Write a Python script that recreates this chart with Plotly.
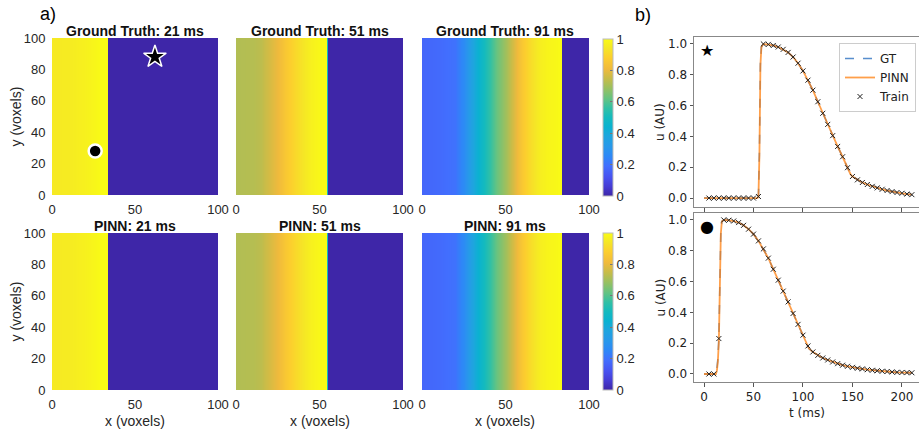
import plotly.graph_objects as go

W, H = 919, 431

# ---------------- data: spatial profiles (uniform along y) ----------------
x_21 = [0, 10, 20, 25, 30, 33, 34, 100]
gt_21 = [0.95, 0.955, 0.97, 0.985, 1.0, 1.0, 0.0, 0.0]
pinn_21 = [0.95, 0.955, 0.97, 0.985, 1.0, 1.0, 0.0, 0.0]

x_51 = [0, 10, 15, 20, 25, 30, 35, 40, 45, 50, 54, 55, 100]
gt_51 = [0.72, 0.725, 0.735, 0.77, 0.81, 0.86, 0.90, 0.94, 0.97, 0.99, 1.0, 0.0, 0.0]
pinn_51 = [0.72, 0.725, 0.735, 0.77, 0.81, 0.86, 0.90, 0.94, 0.97, 0.99, 1.0, 0.0, 0.0]

x_91 = [0, 10, 20, 25, 30, 35, 40, 45, 50, 55, 60, 65, 70, 75, 80, 83, 84, 100]
gt_91 = [0.17, 0.18, 0.20, 0.27, 0.37, 0.46, 0.55, 0.63, 0.70, 0.78, 0.86, 0.92, 0.96, 0.98, 0.99, 1.0, 0.0, 0.0]
pinn_91 = [0.17, 0.18, 0.20, 0.27, 0.37, 0.46, 0.55, 0.63, 0.70, 0.78, 0.86, 0.92, 0.96, 0.98, 0.99, 1.0, 0.0, 0.0]

y_vox = [0, 100]
panel_titles_gt = ["Ground Truth: 21 ms", "Ground Truth: 51 ms", "Ground Truth: 91 ms"]
panel_titles_pinn = ["PINN: 21 ms", "PINN: 51 ms", "PINN: 91 ms"]

probe_star = (62, 88)
probe_circle = (26, 28)

# ---------------- data: time courses ----------------
t_train = [5, 10, 15, 20, 25, 30, 35, 40, 45, 50, 55, 60, 65, 70, 75, 80, 85, 90, 95, 100,
           105, 110, 115, 120, 125, 130, 135, 140, 145, 150, 155, 160, 165, 170, 175, 180,
           185, 190, 195, 200, 205, 210]
star_train = [0, 0, 0, 0, 0, 0, 0, 0, 0, 0, 0.01, 1.0, 0.997, 0.99, 0.98, 0.965, 0.945, 0.915,
              0.875, 0.825, 0.765, 0.70, 0.625, 0.55, 0.478, 0.405, 0.335, 0.268, 0.197, 0.14,
              0.118, 0.101, 0.088, 0.076, 0.066, 0.057, 0.049, 0.042, 0.036, 0.031, 0.026, 0.022]
circ_train = [0, 0, 0.23, 1.0, 0.998, 0.993, 0.983, 0.965, 0.94, 0.908, 0.864, 0.812, 0.752,
              0.68, 0.609, 0.538, 0.468, 0.393, 0.322, 0.252, 0.182, 0.143, 0.121, 0.104, 0.091,
              0.078, 0.067, 0.057, 0.05, 0.043, 0.037, 0.033, 0.028, 0.024, 0.021, 0.018, 0.016,
              0.013, 0.011, 0.01, 0.009, 0.008]

star_t = [0, 50, 54, 55, 56, 57, 58, 60, 65, 70, 75, 80, 85, 90, 95, 100, 105, 110, 115, 120,
          125, 130, 135, 140, 145, 148, 150, 155, 160, 165, 170, 175, 180, 185, 190, 195, 200, 205, 210]
star_gt = [0, 0, 0, 0.01, 0.3, 0.88, 0.98, 1.0, 0.997, 0.99, 0.98, 0.965, 0.945, 0.915, 0.875,
           0.825, 0.765, 0.70, 0.625, 0.55, 0.478, 0.405, 0.335, 0.268, 0.197, 0.155, 0.14, 0.118,
           0.101, 0.088, 0.076, 0.066, 0.057, 0.049, 0.042, 0.036, 0.031, 0.026, 0.022]
star_pinn = [0, 0, 0, 0.01, 0.28, 0.86, 0.98, 1.0, 0.997, 0.99, 0.98, 0.965, 0.945, 0.915, 0.875,
             0.825, 0.765, 0.70, 0.625, 0.55, 0.478, 0.405, 0.335, 0.268, 0.197, 0.155, 0.14, 0.118,
             0.101, 0.088, 0.076, 0.066, 0.057, 0.049, 0.042, 0.036, 0.031, 0.026, 0.022]

circ_t = [0, 12, 13, 14, 15, 16, 17, 18, 20, 25, 30, 35, 40, 45, 50, 55, 60, 65, 70, 75, 80, 85,
          90, 95, 100, 106, 110, 115, 120, 125, 130, 135, 140, 145, 150, 155, 160, 165, 170, 175,
          180, 185, 190, 195, 200, 205, 210]
circ_gt = [0, 0, 0.03, 0.1, 0.23, 0.6, 0.92, 0.99, 1.0, 0.998, 0.993, 0.983, 0.965, 0.94, 0.908,
           0.864, 0.812, 0.752, 0.68, 0.609, 0.538, 0.468, 0.393, 0.322, 0.252, 0.165, 0.143,
           0.121, 0.104, 0.091, 0.078, 0.067, 0.057, 0.05, 0.043, 0.037, 0.033, 0.028, 0.024,
           0.021, 0.018, 0.016, 0.013, 0.011, 0.01, 0.009, 0.008]
circ_pinn = [0, 0, 0.02, 0.08, 0.21, 0.58, 0.91, 0.99, 1.0, 0.998, 0.993, 0.983, 0.965, 0.94, 0.908,
             0.864, 0.812, 0.752, 0.68, 0.609, 0.538, 0.468, 0.393, 0.322, 0.252, 0.165, 0.143,
             0.121, 0.104, 0.091, 0.078, 0.067, 0.057, 0.05, 0.043, 0.037, 0.033, 0.028, 0.024,
             0.021, 0.018, 0.016, 0.013, 0.011, 0.01, 0.009, 0.008]

cbar_ticks = [0, 0.2, 0.4, 0.6, 0.8, 1.0]
cbar_text = ["0", "0.2", "0.4", "0.6", "0.8", "1"]

# ---------------- styling ----------------
parula = [
    [0.00, "rgb(62,38,168)"],
    [0.06, "rgb(70,60,212)"],
    [0.12, "rgb(72,82,240)"],
    [0.19, "rgb(66,110,254)"],
    [0.25, "rgb(46,135,247)"],
    [0.31, "rgb(40,151,235)"],
    [0.38, "rgb(30,165,222)"],
    [0.44, "rgb(10,178,208)"],
    [0.50, "rgb(20,186,190)"],
    [0.56, "rgb(50,192,164)"],
    [0.62, "rgb(100,195,130)"],
    [0.69, "rgb(155,192,95)"],
    [0.75, "rgb(200,188,72)"],
    [0.81, "rgb(240,186,60)"],
    [0.88, "rgb(252,206,46)"],
    [0.94, "rgb(245,230,38)"],
    [1.00, "rgb(249,251,21)"],
]

MFONT = "Liberation Sans, Arial, sans-serif"
PFONT = "DejaVu Sans, sans-serif"

def px_x(p):
    return p / W

def px_y(p):
    return 1 - p / H

cols = [(52, 218), (236, 403), (422, 589)]
rows = [(38, 195), (233, 390)]
title_y = [31, 225.5]

fig = go.Figure()
layout = dict(width=W, height=H, margin=dict(l=0, r=0, t=0, b=0, autoexpand=False),
              paper_bgcolor="white", plot_bgcolor="white", showlegend=True)
annotations = []

profiles = [[(x_21, gt_21), (x_51, gt_51), (x_91, gt_91)],
            [(x_21, pinn_21), (x_51, pinn_51), (x_91, pinn_91)]]
titles = [panel_titles_gt, panel_titles_pinn]

idx = 0
for r, (ry0, ry1) in enumerate(rows):
    for c, (cx0, cx1) in enumerate(cols):
        idx += 1
        xs, zs = profiles[r][c]
        ax = "" if idx == 1 else str(idx)
        fig.add_trace(go.Heatmap(
            x=xs, y=y_vox, z=[zs for _ in y_vox], zsmooth="best",
            coloraxis="coloraxis" if r == 0 else "coloraxis2",
            xaxis="x" + ax, yaxis="y" + ax, showscale=False, hoverinfo="skip"))
        layout["xaxis" + ax] = dict(
            domain=[px_x(cx0), px_x(cx1)], range=[0, 100], anchor="y" + ax,
            tickvals=[0, 50, 100], ticks="outside", ticklen=2, tickcolor="rgba(0,0,0,0)",
            showgrid=False, zeroline=False, showline=False, automargin=False,
            tickfont=dict(family=MFONT, size=13, color="#262626"))
        layout["yaxis" + ax] = dict(
            domain=[px_y(ry1), px_y(ry0)], range=[0, 100], anchor="x" + ax,
            tickvals=[0, 20, 40, 60, 80, 100], ticks="outside", ticklen=3,
            tickcolor="rgba(0,0,0,0)", showticklabels=(c == 0),
            showgrid=False, zeroline=False, showline=False, automargin=False,
            tickfont=dict(family=MFONT, size=13, color="#262626"))
        annotations.append(dict(
            text="<b>" + titles[r][c] + "</b>", x=px_x((cx0 + cx1) / 2), y=px_y(title_y[r]),
            xref="paper", yref="paper", xanchor="center", yanchor="middle", showarrow=False,
            borderpad=0, font=dict(family=MFONT, size=14, color="#111")))
        if r == 1:
            annotations.append(dict(
                text="x (voxels)", x=px_x((cx0 + cx1) / 2), y=px_y(421), xref="paper", yref="paper",
                xanchor="center", yanchor="middle", showarrow=False, borderpad=0,
                font=dict(family=MFONT, size=14, color="#262626")))
    annotations.append(dict(
        text="y (voxels)", x=px_x(15), y=px_y((ry0 + ry1) / 2), xref="paper", yref="paper",
        xanchor="center", yanchor="middle", textangle=-90, showarrow=False,
        font=dict(family=MFONT, size=14, color="#262626")))

# probe markers on first ground-truth panel
fig.add_trace(go.Scatter(x=[probe_star[0]], y=[probe_star[1]], mode="markers", xaxis="x", yaxis="y",
                         marker=dict(symbol="star", size=17, color="black",
                                     line=dict(color="white", width=1.5)),
                         showlegend=False, hoverinfo="skip"))
fig.add_trace(go.Scatter(x=[probe_circle[0]], y=[probe_circle[1]], mode="markers", xaxis="x", yaxis="y",
                         marker=dict(symbol="circle", size=13, color="black",
                                     line=dict(color="white", width=2.5)),
                         showlegend=False, hoverinfo="skip"))

cb_common = dict(thickness=10, thicknessmode="pixels", lenmode="pixels", len=157,
                 x=px_x(603), xanchor="left", xpad=0, ypad=0, yanchor="top",
                 tickvals=cbar_ticks, ticktext=cbar_text, ticks="inside", ticklen=3,
                 tickcolor="#777", outlinewidth=1, outlinecolor="#bbb",
                 tickfont=dict(family=MFONT, size=13, color="#262626"))
layout["coloraxis"] = dict(colorscale=parula, cmin=0, cmax=1,
                           colorbar=dict(y=px_y(39), **cb_common))
layout["coloraxis2"] = dict(colorscale=parula, cmin=0, cmax=1,
                            colorbar=dict(y=px_y(233), **cb_common))

# ---------------- right-hand time-course panels ----------------
gt_color = "rgba(70,130,200,0.9)"
pinn_color = "rgba(255,127,14,0.75)"
right_rows = [(37, 207, [-0.058, 1.045], star_t, star_gt, star_pinn, star_train, "★"),
              (213, 382, [-0.052, 1.045], circ_t, circ_gt, circ_pinn, circ_train, "●")]
for k, (y0, y1, yr, tt, gt, pn, tr, sym) in enumerate(right_rows):
    ax = str(7 + k)
    first = (k == 0)
    fig.add_trace(go.Scatter(x=tt, y=gt, mode="lines", name="GT", legendgroup="GT",
                             showlegend=first, xaxis="x" + ax, yaxis="y" + ax,
                             line=dict(color=gt_color, width=1.5, dash="dash")))
    fig.add_trace(go.Scatter(x=tt, y=pn, mode="lines", name="PINN", legendgroup="PINN",
                             showlegend=first, xaxis="x" + ax, yaxis="y" + ax,
                             line=dict(color=pinn_color, width=1.8)))
    fig.add_trace(go.Scatter(x=t_train, y=tr, mode="markers", name="Train", legendgroup="Train",
                             showlegend=first, xaxis="x" + ax, yaxis="y" + ax,
                             marker=dict(symbol="x-thin", size=5, color="black",
                                         line=dict(color="#222", width=1))))
    layout["xaxis" + ax] = dict(
        domain=[px_x(694), 1.0], range=[-10.1, 217.2], anchor="y" + ax,
        tickvals=[0, 50, 100, 150, 200], showticklabels=(k == 1),
        ticks="outside", ticklen=3.5, tickcolor="#555", showline=True, linecolor="#888",
        linewidth=1, mirror=True, showgrid=False, zeroline=False, automargin=False,
        tickfont=dict(family=PFONT, size=12, color="#222"))
    layout["yaxis" + ax] = dict(
        domain=[px_y(y1), px_y(y0)], range=yr, anchor="x" + ax,
        tickvals=[0, 0.2, 0.4, 0.6, 0.8, 1.0], ticktext=["0.0", "0.2", "0.4", "0.6", "0.8", "1.0"],
        ticks="outside", ticklen=3.5, tickcolor="#555", showline=True, linecolor="#888",
        linewidth=1, mirror=True, showgrid=False, zeroline=False, automargin=False,
        tickfont=dict(family=PFONT, size=12, color="#222"))
    annotations.append(dict(text="u (AU)", x=px_x(660), y=px_y((y0 + y1) / 2), xref="paper",
                            yref="paper", xanchor="center", yanchor="middle", textangle=-90,
                            showarrow=False, font=dict(family=PFONT, size=12, color="#222")))
    annotations.append(dict(text=sym, x=px_x(707), y=px_y(y0 + (14 if k == 0 else 13)), xref="paper",
                            yref="paper", xanchor="center", yanchor="middle", showarrow=False,
                            font=dict(family=PFONT, size=16, color="black")))

annotations.append(dict(text="t (ms)", x=px_x(807), y=px_y(413), xref="paper", yref="paper",
                        xanchor="center", yanchor="middle", showarrow=False,
                        font=dict(family=PFONT, size=12, color="#222")))
annotations.append(dict(text="a)", x=px_x(38), y=px_y(14), xref="paper", yref="paper",
                        xanchor="left", yanchor="middle", showarrow=False,
                        font=dict(family=MFONT, size=18, color="black")))
annotations.append(dict(text="b)", x=px_x(633), y=px_y(15), xref="paper", yref="paper",
                        xanchor="left", yanchor="middle", showarrow=False,
                        font=dict(family=MFONT, size=18, color="black")))

layout["annotations"] = annotations
layout["legend"] = dict(x=px_x(839), y=px_y(43), xanchor="left", yanchor="top",
                        bgcolor="white", bordercolor="#ccc", borderwidth=1,
                        font=dict(family=PFONT, size=12, color="#222"),
                        itemwidth=30, tracegroupgap=0)
fig.update_layout(**layout)
fig.write_html("out.html", config={"displayModeBar": False},
               post_script="document.body.style.margin='0';document.body.style.padding='0';")
